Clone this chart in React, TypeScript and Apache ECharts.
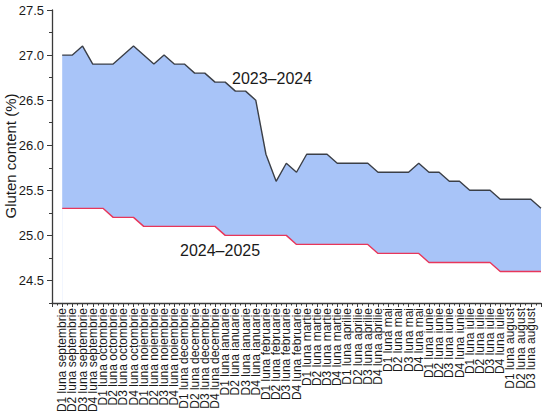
import React, { useEffect, useRef } from "react";
import * as echarts from "echarts";

const months = [
  "septembrie", "octombrie", "noiembrie", "decembrie", "ianuarie", "februarie",
  "martie", "aprilie", "mai", "iunie", "iulie", "august",
];
const weeks = ["D1", "D2", "D3", "D4"];
const categories: string[] = [];
months.forEach((m) => weeks.forEach((w) => categories.push(`${w} luna ${m}`)));

const season2023: number[] = [
  27.0, 27.0, 27.1, 26.9, 26.9, 26.9, 27.0, 27.1, 27.0, 26.9, 27.0, 26.9,
  26.9, 26.8, 26.8, 26.7, 26.7, 26.6, 26.6, 26.5, 25.9, 25.6, 25.8, 25.7,
  25.9, 25.9, 25.9, 25.8, 25.8, 25.8, 25.8, 25.7, 25.7, 25.7, 25.7, 25.8,
  25.7, 25.7, 25.6, 25.6, 25.5, 25.5, 25.5, 25.4, 25.4, 25.4, 25.4, 25.3,
];
const season2024: number[] = [
  25.3, 25.3, 25.3, 25.3, 25.3, 25.2, 25.2, 25.2, 25.1, 25.1, 25.1, 25.1,
  25.1, 25.1, 25.1, 25.1, 25.0, 25.0, 25.0, 25.0, 25.0, 25.0, 25.0, 24.9,
  24.9, 24.9, 24.9, 24.9, 24.9, 24.9, 24.9, 24.8, 24.8, 24.8, 24.8, 24.8,
  24.7, 24.7, 24.7, 24.7, 24.7, 24.7, 24.7, 24.6, 24.6, 24.6, 24.6, 24.6,
];
const yMajorTicks = [24.5, 25.0, 25.5, 26.0, 26.5, 27.0, 27.5];
const yMinorTicks = [24.25, 24.75, 25.25, 25.75, 26.25, 26.75, 27.25];

const FONT = "Liberation Sans, Arial, sans-serif";
const TEXT = "#1a1a1a";
const AXIS = "#3a3a3a";

export default function App() {
  const ref = useRef<HTMLDivElement>(null);
  useEffect(() => {
    if (!ref.current) return;
    document.body.style.margin = "0";
    const chart = echarts.init(ref.current, undefined, { renderer: "svg" });
    chart.setOption({
      animation: false,
      grid: { left: 52, top: 10, right: 9, bottom: 115, containLabel: false, outerBoundsMode: "none" },
      xAxis: {
        type: "value",
        min: 0,
        max: 48,
        interval: 1,
        z: 10,
        axisLine: { show: true, lineStyle: { color: AXIS, width: 1.3 } },
        axisTick: { show: true, length: 4, lineStyle: { color: AXIS } },
        minorTick: { show: true, splitNumber: 2, length: 2.5, lineStyle: { color: AXIS } },
        splitLine: { show: false },
        minorSplitLine: { show: false },
        axisLabel: {
          rotate: 90,
          margin: 5,
          fontSize: 12,
          fontFamily: FONT,
          color: TEXT,
          formatter: (v: number) => categories[Math.round(v) - 1] || "",
        },
      },
      yAxis: [
        {
          type: "value",
          min: 24.25,
          max: 27.5,
          interval: 0.25,
          z: 10,
          axisLine: { show: true, lineStyle: { color: AXIS, width: 1.3 } },
          axisTick: { show: true, length: 5, customValues: yMajorTicks, lineStyle: { color: AXIS } },
          splitLine: { show: false },
          axisLabel: {
            customValues: yMajorTicks,
            margin: 8,
            fontSize: 13,
            fontFamily: FONT,
            color: TEXT,
            formatter: (v: number) => v.toFixed(1),
          },
        },
        {
          type: "value",
          min: 24.25,
          max: 27.5,
          interval: 0.25,
          position: "left",
          z: 10,
          axisLine: { show: false },
          axisTick: { show: true, length: 3, customValues: yMinorTicks, lineStyle: { color: AXIS } },
          axisLabel: { show: false },
          splitLine: { show: false },
        },
      ],
      series: [
        {
          name: "2023–2024",
          type: "line",
          data: season2023.map((v, i) => [i + 1, v]),
          symbol: "none",
          lineStyle: { color: "#3b3f47", width: 1.4 },
          areaStyle: { color: "#a8c4f8", opacity: 1, origin: "start" },
          z: 2,
        },
        {
          name: "2024–2025",
          type: "line",
          data: season2024.map((v, i) => [i + 1, v]),
          symbol: "none",
          lineStyle: { color: "#e8365a", width: 1.4 },
          areaStyle: { color: "#ffffff", opacity: 1, origin: "start" },
          z: 3,
        },
      ],
      graphic: [
        {
          type: "text",
          x: 10,
          y: 156,
          rotation: Math.PI / 2,
          z: 100,
          style: {
            text: "Gluten content (%)",
            fontSize: 15,
            fontFamily: FONT,
            fill: TEXT,
            align: "center",
            verticalAlign: "middle",
          },
        },
        {
          type: "text",
          left: 232,
          top: 70,
          z: 100,
          style: { text: "2023–2024", fontSize: 16, fontFamily: FONT, fill: TEXT },
        },
        {
          type: "text",
          left: 180,
          top: 242,
          z: 100,
          style: { text: "2024–2025", fontSize: 16, fontFamily: FONT, fill: TEXT },
        },
      ],
    });
    return () => chart.dispose();
  }, []);
  return <div ref={ref} style={{ width: 550, height: 418 }} />;
}
